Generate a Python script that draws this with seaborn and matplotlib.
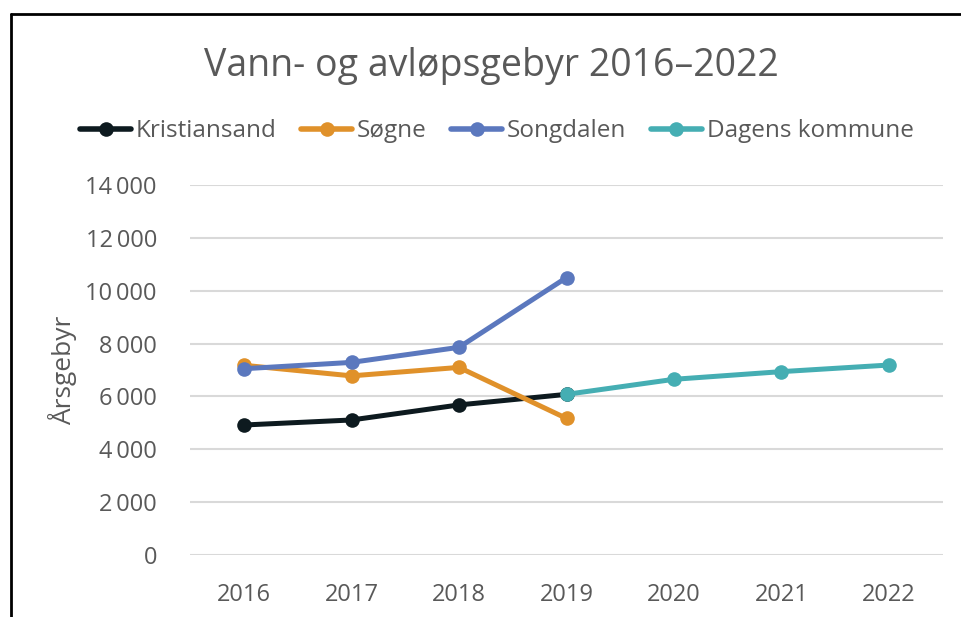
import pandas as pd
import matplotlib.pyplot as plt
import seaborn as sns
from matplotlib.lines import Line2D
from matplotlib.ticker import FuncFormatter

# values
years_old = [2016, 2017, 2018, 2019]
years_new = [2019, 2020, 2021, 2022]
kristiansand = [4920, 5110, 5680, 6080]
sogne = [7180, 6780, 7100, 5170]
songdalen = [7050, 7290, 7860, 10500]
dagens = [6080, 6650, 6940, 7190]

series = ["Kristiansand", "Søgne", "Songdalen", "Dagens kommune"]
colors = ["#0d1a1f", "#e0912a", "#5b78be", "#45aeb3"]

df = pd.concat([
    pd.DataFrame({"År": years_old, "Årsgebyr": kristiansand, "Kommune": "Kristiansand"}),
    pd.DataFrame({"År": years_old, "Årsgebyr": sogne, "Kommune": "Søgne"}),
    pd.DataFrame({"År": years_old, "Årsgebyr": songdalen, "Kommune": "Songdalen"}),
    pd.DataFrame({"År": years_new, "Årsgebyr": dagens, "Kommune": "Dagens kommune"}),
])

sns.set_style("white")
plt.rcParams["font.family"] = ["Open Sans", "DejaVu Sans"]
grey = "#595959"

fig = plt.figure(figsize=(9.61, 6.17), dpi=100)
ax = fig.add_axes([0.198, 0.1005, 0.783, 0.5995])

sns.lineplot(data=df, x="År", y="Årsgebyr", hue="Kommune", hue_order=series,
             palette=colors, marker="o", markersize=10.5, markeredgewidth=0,
             linewidth=3.6, ax=ax, legend=False)

ax.set_xlim(2015.5, 2022.5)
ax.set_ylim(0, 14000)
ax.set_xticks(range(2016, 2023))
ax.set_yticks(range(0, 14001, 2000))
ax.yaxis.set_major_formatter(FuncFormatter(lambda v, p: f"{v:,.0f}".replace(",", "\u2009")))
ax.tick_params(axis="both", length=0, labelsize=17, labelcolor=grey)
ax.tick_params(axis="x", pad=20)
ax.tick_params(axis="y", pad=24)
ax.grid(axis="y", color="#d9d9d9", linewidth=1.5)
ax.set_axisbelow(True)
sns.despine(ax=ax, left=True, bottom=True)
ax.set_xlabel("")
ax.set_ylabel("Årsgebyr", fontsize=19, color=grey, labelpad=6)

fig.text(0.5115, 0.893, "Vann- og avløpsgebyr 2016–2022", ha="center", va="center",
         fontsize=27, color=grey)

handles = [Line2D([], [], color=c, linewidth=4, marker="o", markersize=10.5,
                  markeredgewidth=0) for c in colors]
fig.legend(handles, series, loc="center", bbox_to_anchor=(0.517, 0.787), ncol=4,
           frameon=False, fontsize=17.5, labelcolor=grey, handlelength=2.1,
           handletextpad=0.2, columnspacing=1.0)

# frame of the screenshot (top and left edges)
fig.add_artist(Line2D([0.011, 1.0], [0.977, 0.977], color="black", linewidth=2))
fig.add_artist(Line2D([0.011, 0.011], [0.0, 0.977], color="black", linewidth=2))

fig.savefig("out.png", dpi=100)
